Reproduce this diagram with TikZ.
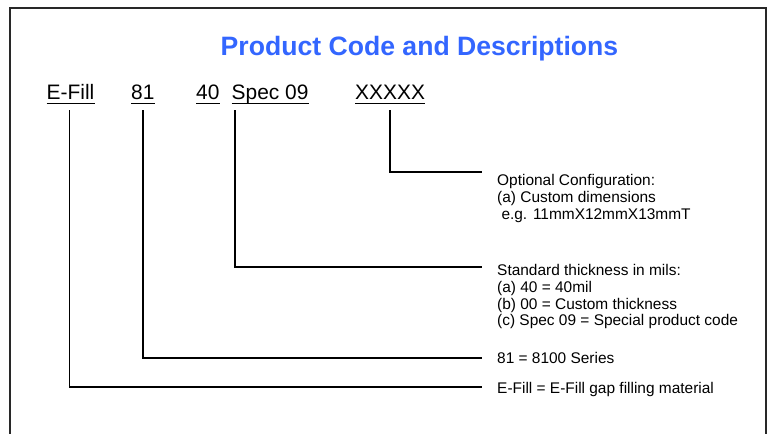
\documentclass[tikz,border=0pt]{standalone}
\usepackage{fontspec}
\setmainfont{Liberation Sans}
\definecolor{titleblue}{RGB}{51,102,255}
\definecolor{framegray}{RGB}{40,40,40}
\tikzset{
  x=1bp, y=-1bp,
  code/.style={inner sep=0pt, text depth=0pt, anchor=base west, font=\fontsize{21}{25}\selectfont},
  desc/.style={inner sep=0pt, anchor=base west, align=left, font=\fontsize{15.5}{17}\selectfont},
  link/.style={line width=1.5bp, black},
  uline/.style={line width=1.5bp, black},
}
\begin{document}
\begin{tikzpicture}
\useasboundingbox (0,0) rectangle (773,434);
\fill[white] (0,0) rectangle (773,434);
\draw[framegray, line width=2bp] (10,445) -- (10,8) -- (766,8) -- (766,445);
\node[inner sep=0pt, anchor=base, text=titleblue, font=\fontsize{26.7}{30}\selectfont\bfseries] (title) at (419.5,55.5) {Product Code and Descriptions};
\node[code] (efill) at (46.5,100) {E-Fill};
\node[code] (s81) at (131,100) {81};
\node[code] (s40) at (196,100) {40};
\node[code] (spec) at (231.5,100) {Spec 09};
\node[code] (xx) at (355,100) {XXXXX};
\foreach \n in {efill,s81,s40,spec,xx}
  \draw[uline] ([yshift=-3.5bp]\n.south west) -- ([yshift=-3.5bp]\n.south east);
\node[desc] (dopt) at (497,219.5) {Optional Configuration:\\(a) Custom dimensions\\\hspace*{0.28em}e.g. 11mmX12mmX13mmT};
\node[desc] (dstd) at (497,326) {Standard thickness in mils:\\(a) 40 = 40mil\\(b) 00 = Custom thickness\\(c) Spec 09 = Special product code};
\node[desc] (d81) at (497,363.5) {81 = 8100 Series};
\node[desc] (def) at (497,393.5) {E-Fill = E-Fill gap filling material};
\coordinate (cx) at (482,172);
\coordinate (cs) at (482,267);
\coordinate (c8) at (482,358);
\coordinate (ce) at (482,387);
\draw[link] ([yshift=-10bp]xx.south) |- (cx);
\draw[link] ([xshift=3.5bp,yshift=-10bp]spec.south west) |- (cs);
\draw[link] ([yshift=-10bp]s81.south) |- (c8);
\draw[link] ([xshift=-1bp,yshift=-10bp]efill.south) |- (ce);
\end{tikzpicture}
\end{document}
